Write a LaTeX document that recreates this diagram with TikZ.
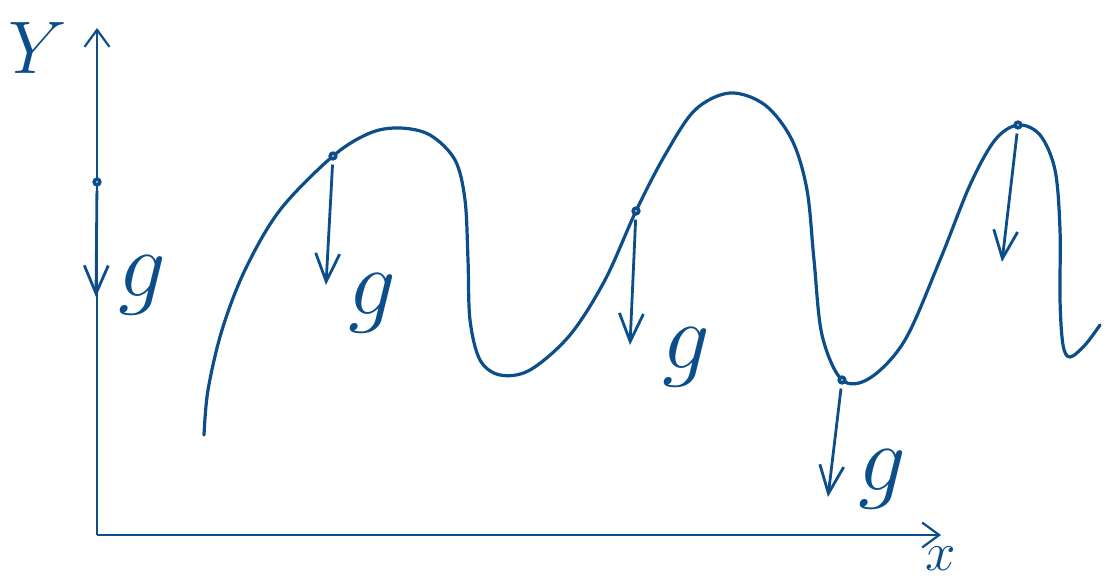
\documentclass[tikz,border=0pt]{standalone}
\usepackage{amsmath}
\usetikzlibrary{arrows.meta,positioning}
\definecolor{ink}{RGB}{12,78,138}
\newcommand{\bigsym}[2]{\scalebox{#1}{$#2$}}
\tikzset{
	my axis/.style={-{Straight Barb[length=17pt,width=25pt]}, line width=2.2pt, ink},
	my curve/.style={line width=3.2pt, ink, line cap=round}, % the wave itself
	my dot/.style={circle, draw=ink, line width=3.5pt, fill=white, inner sep=2pt},
	my force/.style={-{Straight Barb[length=28pt,width=24pt]}, line width=2.8pt, ink, shorten <=4pt},
	my label/.style={ink, inner sep=0pt, font=\Huge}
}
\begin{document}
\begin{tikzpicture}[x=1pt,y=-1pt]
            \useasboundingbox (0,0) rectangle (1107,585);
            \coordinate (o) at (97,535);
            \coordinate (ytop) at (97,28);
            \coordinate (xend) at (941,535);
            \draw[my axis] (o) -- (ytop);
            \draw[my axis] (o) -- (xend);
            \node[my label] (ylab) at (38,48) {\bigsym{3.0}{Y}};
            \node[my label] (xlab) [below=12pt of xend] {\bigsym{2.2}{x}};
            % the wave
            \draw[my curve] plot[smooth,tension=0.55] coordinates {
                (204,435) (208,390) (222,330) (245,270) (280,210) (333,156)
                (370,133) (400,128) (430,135) (455,160) (465,200) (468,260)
                (470,320) (480,360) (500,375) (530,370) (570,335) (605,280)
                (636,211) (665,155) (695,110) (730,93) (765,105) (792,140)
                (807,190) (814,260) (822,335) (842,380) (870,378) (905,340)
                (940,260) (970,185) (995,140) (1018,125) (1040,135) (1055,170)
                (1060,230) (1060,300) (1063,345) (1070,357) (1085,345) (1100,325)};
            % masses on the path
            \node[my dot] (m0) at (97,182) {};
            \node[my dot] (m1) at (333,156) {};
            \node[my dot] (m2) at (636,211) {};
            \node[my dot] (m3) at (842,380) {};
            \node[my dot] (m4) at (1018,125) {};
            \coordinate (f0) at (96,297);
            \coordinate (f1) at (326,285);
            \coordinate (f2) at (630,345);
            \coordinate (f3) at (828,497);
            \coordinate (f4) at (1002,262);
            \draw[my force] (m0) -- (f0);
            \draw[my force] (m1) -- (f1);
            \draw[my force] (m2) -- (f2);
            \draw[my force] (m3) -- (f3);
            \draw[my force] (m4) -- (f4);
            \node[my label] (g0) [right=22pt of f0, yshift=12pt] {\bigsym{3.8}{g}};
            \node[my label] (g1) [right=22pt of f1, yshift=-18pt] {\bigsym{3.8}{g}};
            \node[my label] (g2) [right=32pt of f2, yshift=-12pt] {\bigsym{3.8}{g}};
            \node[my label] (g3) [right=30pt of f3, yshift=18pt] {\bigsym{3.8}{g}};
        \end{tikzpicture}
\end{document}
